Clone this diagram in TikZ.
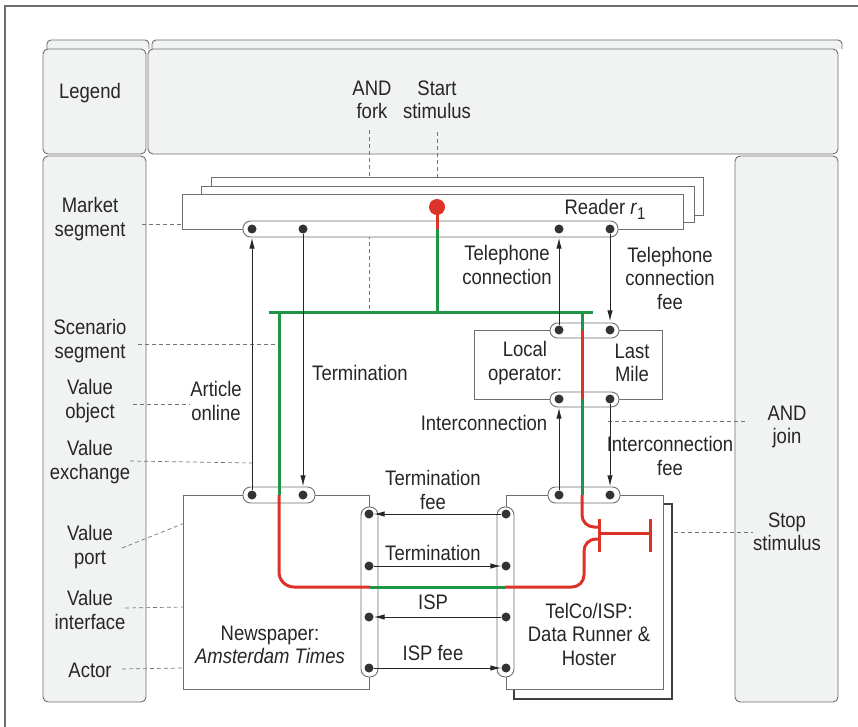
\documentclass[tikz,border=0pt]{standalone}
\usepackage{fontspec}
\setmainfont{Liberation Sans}[FakeStretch=0.88]
\usetikzlibrary{arrows.meta}
\definecolor{panelgray}{HTML}{F1F2F2}
\definecolor{edgegray}{HTML}{6E6E6E}
\definecolor{portgray}{HTML}{333333}
\definecolor{pathgreen}{HTML}{1E9646}
\definecolor{pathred}{HTML}{DC3228}
\tikzset{
  panel/.style={draw=edgegray, fill=panelgray, line width=0.9pt, rounded corners=5pt},
  actorbox/.style={draw=edgegray, fill=white, line width=0.9pt},
  pill/.style={draw=edgegray, fill=white, line width=0.9pt, rounded corners=7.5pt},
  port/.style={circle, fill=portgray, inner sep=0pt, minimum size=9pt},
  startdot/.style={circle, fill=pathred, inner sep=0pt, minimum size=16pt},
  exch/.style={-{Latex[length=11pt,width=5.5pt]}, line width=1pt, black!85},
  hint/.style={draw=black!55, dash pattern=on 4pt off 3pt, line width=0.7pt},
  lbl/.style={align=center, text=black!85, inner sep=0pt,
    font=\fontsize{21}{23.5}\selectfont},
  greenseg/.style={pathgreen, line width=3pt},
  redseg/.style={pathred, line width=3pt},
}
\begin{document}
\begin{tikzpicture}[x=1pt, y=-1pt]
  \useasboundingbox (0,0) rectangle (858,727);
  % Frame
  \draw[edgegray, line width=1.4pt] (5,727) -- (5,6) -- (858,6);
  % Legend panels
  \draw[panel, rounded corners=4pt] (47,49) -- (47,40) -- (149,40) -- (149,49);
  \draw[panel, rounded corners=4pt] (152,49) -- (152,40) -- (842,40) -- (842,49);
  \draw[panel] (43,49) rectangle (146,154);
  \draw[panel] (148,49) rectangle (838,154);
  \draw[panel] (43,156) rectangle (146,702);
  \draw[panel] (735,156) rectangle (838,702);
  % Legend pointers
  \draw[hint] (142,224) -- (182,224);
  \draw[hint] (138,344) -- (279,344);
  \draw[hint] (133,404) -- (190,404);
  \draw[hint] (130,461) -- (252,463);
  \draw[hint] (122,548) -- (245,499);
  \draw[hint] (125,608) -- (361,604);
  \draw[hint] (122,669) -- (182,668);
  \draw[hint] (369,130) -- (369,312);
  \draw[hint] (437,132) -- (437,200);
  \draw[hint] (608,421) -- (748,421);
  \draw[hint] (653,532) -- (753,532);
  % Actors
  \draw[actorbox] (211,177) rectangle (703,215);
  \draw[actorbox] (201,186) rectangle (694,222);
  \draw[actorbox] (182,194) rectangle (683,229);
  \draw[actorbox] (474,330) rectangle (662,399);
  \draw[actorbox] (183,495) rectangle (369,689);
  \draw[actorbox, draw=black!75, line width=1.3pt] (514,504) rectangle (672,699);
  \draw[actorbox] (506,495) rectangle (663,689);
  % Value interfaces
  \draw[pill] (243,221) rectangle (618,237);
  \draw[pill] (550,323) rectangle (619,338);
  \draw[pill] (550,392) rectangle (619,407);
  \draw[pill] (243,487) rectangle (315,503);
  \draw[pill] (548,487) rectangle (620,503);
  \draw[pill, rounded corners=8pt] (361,507) rectangle (378,677);
  \draw[pill, rounded corners=8pt] (497,507) rectangle (514,677);
  % Scenario path
  \draw[redseg] (437,207) -- (437,229);
  \draw[greenseg] (437,229) -- (437,312);
  \draw[greenseg] (269,312) -- (593,312);
  \draw[greenseg] (279,312) -- (279,495);
  \draw[redseg, rounded corners=15pt] (279,495) -- (279,587) -- (370,587);
  \draw[greenseg] (370,587) -- (505,587);
  \draw[redseg, rounded corners=12pt] (505,587) -- (584,587) -- (584,539) -- (599,539);
  \draw[greenseg] (582,312) -- (582,330);
  \draw[redseg] (582,330) -- (582,399);
  \draw[greenseg] (582,399) -- (582,495);
  \draw[redseg, rounded corners=12pt] (582,495) -- (582,527) -- (599,527);
  \coordinate (join) at (599,533);
  \coordinate (stop) at (650,533);
  \draw[redseg] (599,519) -- (599,552);
  \draw[redseg] (join) -- (stop);
  \draw[redseg] (650,519) -- (650,552);
  \node[startdot] (start) at (437,207) {};
  % Value ports
  \foreach \n/\x/\y in {r1/252/229, r2/303/229, r3/559/229, r4/610/229,
      lt1/559/330, lt2/610/330, lb1/559/399, lb2/610/399,
      n1/252/495, n2/303/495, t1/559/495, t2/610/495,
      ni1/369/514, ni2/369/566, ni3/369/617, ni4/369/668,
      ti1/506/514, ti2/506/566, ti3/506/617, ti4/506/668}
    \node[port] (\n) at (\x,\y) {};
  % Value exchanges
  \draw[exch, shorten >=4pt] (n1) -- (r1);
  \draw[exch, shorten >=4pt] (r2) -- (n2);
  \draw[exch, shorten >=4pt] (lt1) -- (r3);
  \draw[exch, shorten >=4pt] (r4) -- (lt2);
  \draw[exch, shorten >=4pt] (t1) -- (lb1);
  \draw[exch, shorten >=4pt] (lb2) -- (t2);
  \draw[exch] (ti1) -- (ni1);
  \draw[exch] (ni2) -- (ti2);
  \draw[exch] (ti3) -- (ni3);
  \draw[exch] (ni4) -- (ti4);
  % Legend labels
  \node[lbl] (legend) at (90,93) {Legend};
  \node[lbl] (market) at (90,219) {Market\\segment};
  \node[lbl] (scenario) at (90,341) {Scenario\\segment};
  \node[lbl] (object) at (90,401) {Value\\object};
  \node[lbl] (exchange) at (90,462) {Value\\exchange};
  \node[lbl] (vport) at (90,547) {Value\\port};
  \node[lbl] (interface) at (90,610) {Value\\interface};
  \node[lbl] (actor) at (90,670) {Actor};
  \node[lbl] (fork) at (372,100) {AND\\fork};
  \node[lbl] (stimulus) at (437,100) {Start\\stimulus};
  \node[lbl] (andjoin) at (787,427) {AND\\join};
  \node[lbl] (stopstim) at (787,532) {Stop\\stimulus};
  % Diagram labels
  \node[lbl] (reader) at (605,209) {Reader \textit{r}\raisebox{-5pt}{\fontsize{17}{17}\selectfont 1}};
  \node[lbl] (telcon) at (507,265) {Telephone\\connection};
  \node[lbl] (telfee) at (670,278) {Telephone\\connection\\fee};
  \node[lbl] (termup) at (360,373) {Termination};
  \node[lbl] (article) at (216,401) {Article\\online};
  \node[lbl] (local) at (525,363) {Local\\operator:};
  \node[lbl] (lastmile) at (632,363) {Last\\Mile};
  \node[lbl] (intercon) at (484,423) {Interconnection};
  \node[lbl] (interfee) at (670,456) {Interconnection\\fee};
  \node[lbl] (termfee) at (433,490) {Termination\\fee};
  \node[lbl] (term) at (433,553) {Termination};
  \node[lbl] (isp) at (433,602) {ISP};
  \node[lbl] (ispfee) at (433,653) {ISP fee};
  \node[lbl] (news) at (270,645) {Newspaper:\\\textit{Amsterdam Times}};
  \node[lbl] (telco) at (589,634) {TelCo/ISP:\\Data Runner \&\\Hoster};
\end{tikzpicture}
\end{document}
